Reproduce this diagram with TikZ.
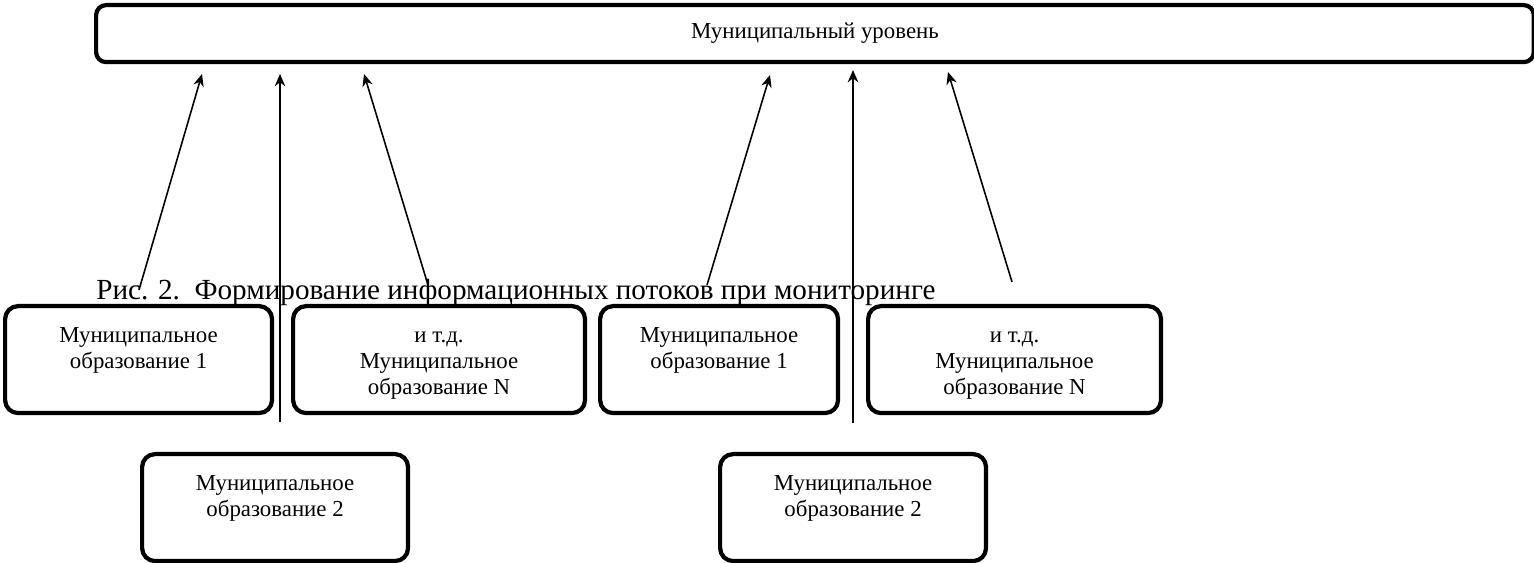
\documentclass[tikz,border=0pt]{standalone}
\usepackage{fontspec}
\setmainfont{Liberation Serif}
\usetikzlibrary{arrows.meta}

\tikzset{
	mobox/.style={draw, fill=white, line width=2.4pt, rounded corners=0.26cm,
		anchor=north west, inner sep=0pt, minimum height=2.14cm},
	motext/.style={anchor=north, align=center, inner sep=0pt,
		font=\fontsize{13}{14.7}\selectfont},
}

\begin{document}
\begin{tikzpicture}[x=0.02cm, y=-0.02cm, >={Stealth[length=7pt, width=6pt]}]
	
	\useasboundingbox (0,0) rectangle (1534,563);
	
	% caption behind the boxes
	\node[anchor=base west, inner sep=0pt, font=\fontsize{16.6}{19}\selectfont] (cap) at (96,300)
	{Рис. 2.\ \ Формирование информационных потоков при мониторинге};
	
	% top level
	\node[draw, line width=2.4pt, rounded corners=0.2cm, anchor=north west, inner sep=0pt,
	minimum width=28.76cm, minimum height=1.14cm, font=\fontsize{13}{14.7}\selectfont]
	(top) at (94,3) {Муниципальный уровень};
	
	% arrows
	\foreach \xa/\ya/\xb/\yb [count=\i] in {
		139/290/202/74, 280/422/280/74, 428/285/364/74,
		707/285/770/75, 853/423/853/70, 1012/282/948/72
	}{
		\coordinate (t\i) at (\xa,\ya);
		\coordinate (h\i) at (\xb,\yb);
		\draw[->, line width=0.9pt] (t\i) -- (h\i);
	}
	
	% municipalities
	\node[mobox, minimum width=5.34cm] (mo1a) at (3,304) {};
	\node[mobox, minimum width=5.84cm] (moNa) at (291,304) {};
	\node[mobox, minimum width=4.76cm] (mo1b) at (598,304) {};
	\node[mobox, minimum width=5.86cm] (moNb) at (866,304) {};
	\node[mobox, minimum width=5.32cm] (mo2a) at (140,452) {};
	\node[mobox, minimum width=5.32cm] (mo2b) at (718,452) {};
	
	\foreach \b in {mo1a, mo1b}{
		\node[motext] at ([yshift=-0.4cm]\b.north) {\strut Муниципальное\\образование 1};
	}
	\foreach \b in {moNa, moNb}{
		\node[motext] at ([yshift=-0.4cm]\b.north) {\strut и т.д.\\Муниципальное\\образование N};
	}
	\foreach \b in {mo2a, mo2b}{
		\node[motext] at ([yshift=-0.4cm]\b.north) {\strut Муниципальное\\образование 2};
	}
	
\end{tikzpicture}
\end{document}
